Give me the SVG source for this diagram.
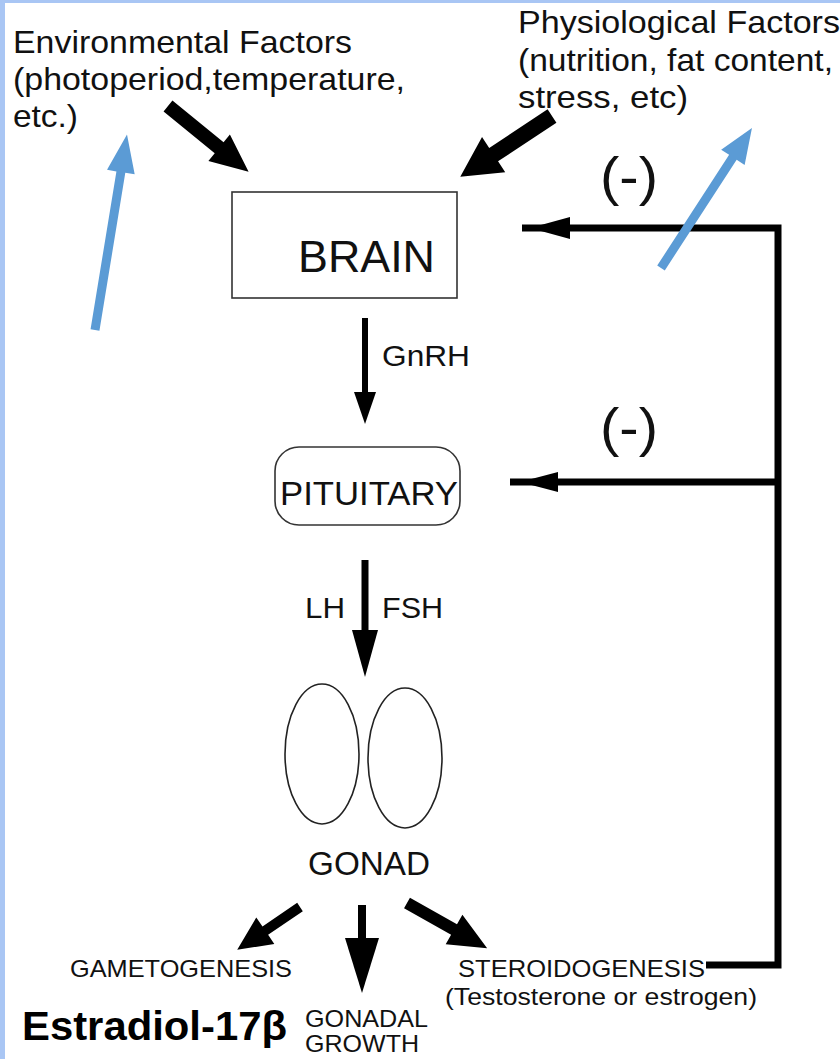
<svg xmlns="http://www.w3.org/2000/svg" width="840" height="1059" viewBox="0 0 840 1059">
<style>
.t{font-family:"Liberation Sans",Arial,sans-serif;fill:#111}
.box{fill:#fff;stroke:#333;stroke-width:1.6}
.fb{stroke:#000;stroke-width:7;fill:none}
.blk{fill:#000}
.blue{fill:#5b9bd5}
</style>
<rect x="0" y="0" width="840" height="1059" fill="#fff"/>
<rect x="0" y="0" width="840" height="3" fill="#a9c6f4"/>
<rect x="0" y="0" width="5" height="1059" fill="#a9c6f4"/>

<g id="env-factors">
<text class="t" x="13" y="53" font-size="32" textLength="339" lengthAdjust="spacingAndGlyphs">Environmental Factors</text>
<text class="t" x="13" y="90" font-size="32" textLength="392" lengthAdjust="spacingAndGlyphs">(photoperiod,temperature,</text>
<text class="t" x="13" y="127" font-size="32" textLength="65" lengthAdjust="spacingAndGlyphs">etc.)</text>
</g>

<g id="phys-factors">
<text class="t" x="518" y="33" font-size="32" textLength="322" lengthAdjust="spacingAndGlyphs">Physiological Factors</text>
<text class="t" x="518" y="71" font-size="32" textLength="315" lengthAdjust="spacingAndGlyphs">(nutrition, fat content,</text>
<text class="t" x="518" y="108" font-size="32" textLength="170" lengthAdjust="spacingAndGlyphs">stress, etc)</text>
</g>

<g id="brain">
<rect class="box" x="232" y="192" width="225" height="106"/>
<text class="t" x="298" y="272" font-size="44" textLength="137" lengthAdjust="spacingAndGlyphs">BRAIN</text>
</g>

<g id="pituitary">
<rect class="box" x="275" y="447" width="185" height="78" rx="24" ry="24"/>
<text class="t" x="280" y="505" font-size="34" textLength="178" lengthAdjust="spacingAndGlyphs">PITUITARY</text>
</g>

<g id="gonad">
<ellipse cx="322" cy="754" rx="37" ry="70" fill="none" stroke="#222" stroke-width="1.6"/>
<ellipse cx="405" cy="758" rx="37" ry="70" fill="none" stroke="#222" stroke-width="1.6"/>
<text class="t" x="308" y="875" font-size="33" textLength="122" lengthAdjust="spacingAndGlyphs">GONAD</text>
</g>

<g id="gametogenesis">
<text class="t" x="70" y="977" font-size="24" textLength="222" lengthAdjust="spacingAndGlyphs">GAMETOGENESIS</text>
</g>
<g id="gonadal-growth">
<text class="t" x="305" y="1027" font-size="24" textLength="123" lengthAdjust="spacingAndGlyphs">GONADAL</text>
<text class="t" x="305" y="1052" font-size="24" textLength="114" lengthAdjust="spacingAndGlyphs">GROWTH</text>
</g>
<g id="steroidogenesis">
<text class="t" x="458" y="977" font-size="24" textLength="247" lengthAdjust="spacingAndGlyphs">STEROIDOGENESIS</text>
<text class="t" x="445" y="1005" font-size="24" textLength="312" lengthAdjust="spacingAndGlyphs">(Testosterone or estrogen)</text>
</g>
<g id="estradiol">
<text x="22" y="1040" font-family="'Liberation Sans',Arial,sans-serif" font-weight="bold" font-size="40" fill="#000" textLength="265" lengthAdjust="spacingAndGlyphs">Estradiol-17β</text>
</g>

<g id="connectors">
<!-- input arrows -->
<path class="blk" d="M0,-7 L66,-7 L66,-17 L104,0 L66,17 L66,7 L0,7Z" transform="translate(168,106) rotate(39.2)"/>
<path class="blk" d="M0,-8 L70,-8 L70,-21 L110,0 L70,21 L70,8 L0,8Z" transform="translate(552,116) rotate(146.5)"/>
<!-- GnRH -->
<rect class="blk" x="362" y="318" width="6" height="80"/>
<polygon class="blk" points="354,392 376,392 365,424"/>
<text class="t" x="382" y="366" font-size="30" textLength="88" lengthAdjust="spacingAndGlyphs">GnRH</text>
<!-- LH FSH -->
<rect class="blk" x="361.5" y="560" width="7" height="75"/>
<polygon class="blk" points="352,630 378,630 365,677"/>
<text class="t" x="305" y="618" font-size="30" textLength="40" lengthAdjust="spacingAndGlyphs">LH</text>
<text class="t" x="382" y="618" font-size="30" textLength="61" lengthAdjust="spacingAndGlyphs">FSH</text>
<!-- gonad outputs -->
<path class="blk" d="M0,-5 L42,-5 L42,-16 L76,0 L42,16 L42,5 L0,5Z" transform="translate(300,907) rotate(145.7)"/>
<rect class="blk" x="358" y="905" width="8" height="40"/>
<polygon class="blk" points="345,938 379,938 362,993"/>
<path class="blk" d="M0,-6 L54,-6 L54,-17 L92,0 L54,17 L54,6 L0,6Z" transform="translate(407,903) rotate(29.4)"/>
<!-- feedback -->
<path class="fb" d="M706,965 H778 V228 H522"/>
<path class="fb" d="M778,482 H510"/>
<polygon class="blk" points="530,228 570,217 570,239"/>
<polygon class="blk" points="520,482 558,472 558,492"/>
<text class="t" x="600" y="195" font-size="54" textLength="58" lengthAdjust="spacingAndGlyphs">(-)</text>
<text class="t" x="600" y="446" font-size="54" textLength="58" lengthAdjust="spacingAndGlyphs">(-)</text>
<!-- blue arrows -->
<path class="blue" d="M0,-4.5 L160,-4.5 L160,-14 L198,0 L160,14 L160,4.5 L0,4.5Z" transform="translate(95,330) rotate(-80.7)"/>
<path class="blue" d="M0,-4.5 L132,-4.5 L132,-14 L167,0 L132,14 L132,4.5 L0,4.5Z" transform="translate(661,268) rotate(-57)"/>
</g>
</svg>
